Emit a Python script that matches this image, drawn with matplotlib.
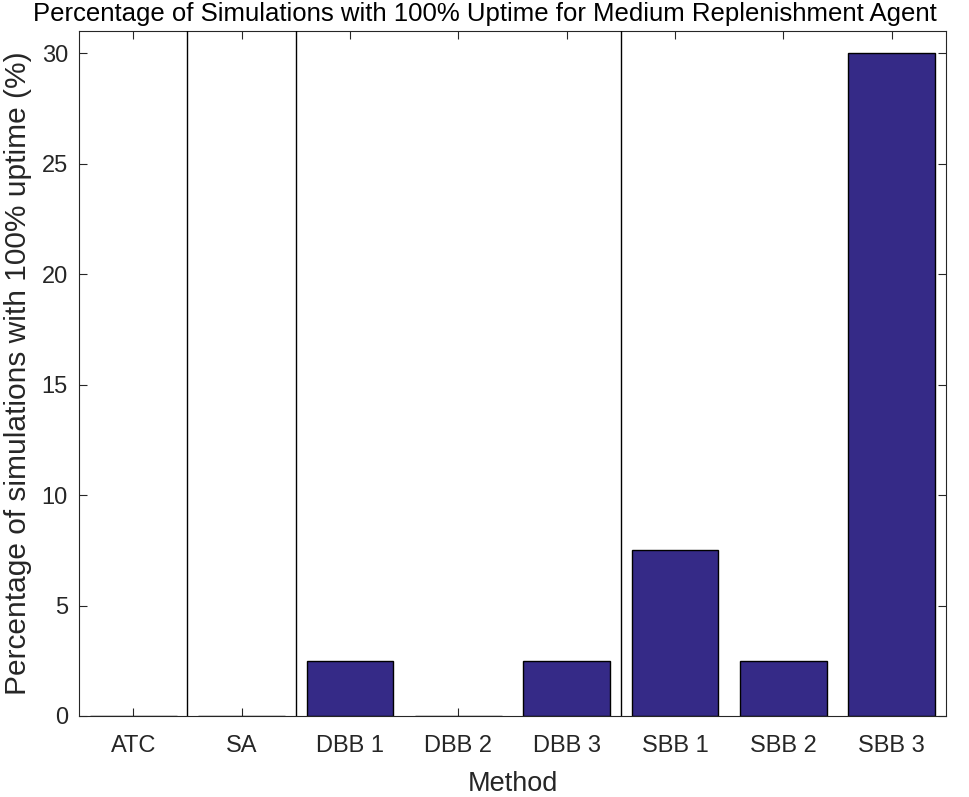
import matplotlib
matplotlib.use("Agg")
import matplotlib.pyplot as plt
import numpy as np

methods = ["ATC", "SA", "DBB 1", "DBB 2", "DBB 3", "SBB 1", "SBB 2", "SBB 3"]
pct_full_uptime = [0, 0, 2.5, 0, 2.5, 7.5, 2.5, 30]
separators = [1.5, 2.5, 5.5]
yticks = [0, 5, 10, 15, 20, 25, 30]

plt.rcParams['font.family'] = ['Liberation Sans', 'DejaVu Sans']

fig = plt.figure(figsize=(9.69, 7.97), dpi=100)
ax = fig.add_axes([79/969, 1 - 716/797, (946-79)/969, (716-31)/797])

x = np.arange(1, len(methods) + 1)
ax.bar(x, pct_full_uptime, width=0.8, color="#352A87", edgecolor="black", linewidth=1.0, zorder=2)
for s in separators:
    ax.axvline(s, color="black", linewidth=1.0, zorder=3)

ax.set_xlim(0.5, 8.5)
ax.set_ylim(0, 31)
ax.set_xticks(x)
ax.set_xticklabels(methods)
ax.set_yticks(yticks)
ax.tick_params(axis='both', direction='in', length=6, width=0.8, colors='#262626',
               labelsize=17, top=True, right=True, pad=8)
ax.tick_params(axis='x', pad=14)
for sp in ax.spines.values():
    sp.set_color('#262626')
    sp.set_linewidth(0.8)

ax.set_xlabel("Method", fontsize=19.5, color='#262626', labelpad=10)
ax.set_ylabel("Percentage of simulations with 100% uptime (%)", fontsize=21.5, color='#262626', labelpad=7)
fig.text(0.5, 1 - 14/797, "Percentage of Simulations with 100% Uptime for Medium Replenishment Agent",
         ha='center', va='center', fontsize=18.5, color='black')

fig.savefig("out.png", dpi=100)
